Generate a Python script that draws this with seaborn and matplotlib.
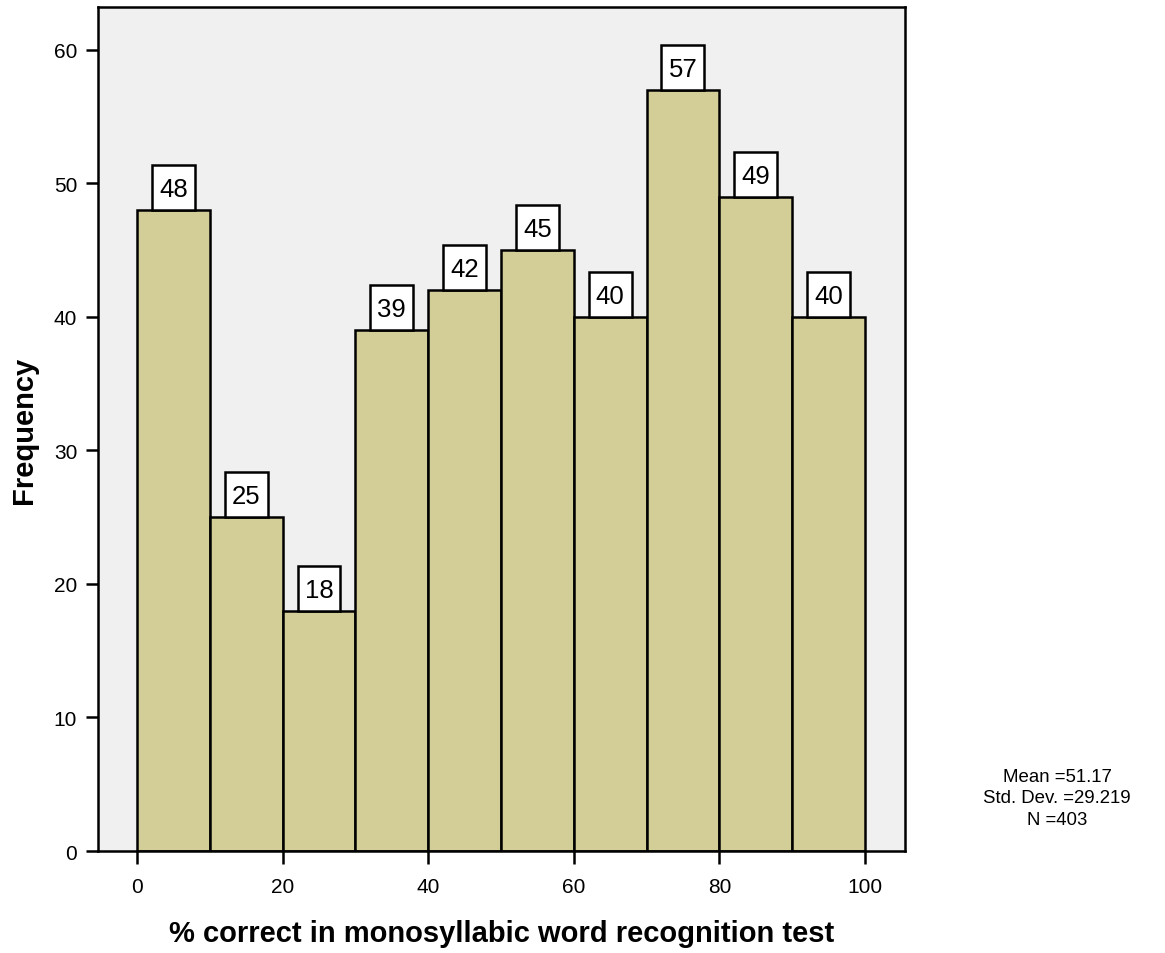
"""
Histogram of word recognition scores, SPSS style
"""

import numpy as np
import pandas as pd
import matplotlib
matplotlib.use('Agg')
import matplotlib.pyplot as plt
from matplotlib.path import Path
import seaborn as sns

# Data
bin_edges = [0, 10, 20, 30, 40, 50, 60, 70, 80, 90, 100]
counts = [48, 25, 18, 39, 42, 45, 40, 57, 49, 40]
x_ticks = [0, 20, 40, 60, 80, 100]
y_ticks = [0, 10, 20, 30, 40, 50, 60]
stats_lines = ["Mean =51.17", "Std. Dev. =29.219", "N =403"]

BAR_COLOR = '#D3CE98'
BG_COLOR = '#F0F0F0'

# label box size, relative to font size
BOX_W = 1.67
BOX_H = 1.75
BOX_SHIFT = -0.06  # box moved up a bit so the digits sit centred


def label_box(x0, y0, width, height, mutation_size):
    """Fixed size box around a count label (SPSS style)"""
    cx = x0 + width / 2
    cy = y0 + height / 2 - BOX_SHIFT * mutation_size
    w = BOX_W * mutation_size / 2
    h = BOX_H * mutation_size / 2
    verts = [(cx - w, cy - h), (cx + w, cy - h), (cx + w, cy + h),
             (cx - w, cy + h), (cx - w, cy - h)]
    return Path(verts, closed=True)


def main():
    sns.set_style('white')
    plt.rcParams['font.family'] = ['Liberation Sans', 'DejaVu Sans']
    plt.rcParams['text.color'] = 'black'
    plt.rcParams['axes.labelcolor'] = 'black'
    plt.rcParams['xtick.color'] = 'black'
    plt.rcParams['ytick.color'] = 'black'

    centers = [(a + b) / 2 for a, b in zip(bin_edges[:-1], bin_edges[1:])]
    df = pd.DataFrame({'score': centers, 'count': counts})

    fig = plt.figure(figsize=(11.65, 9.54), dpi=100)
    ax = fig.add_axes([0.0841, 0.1069, 0.6927, 0.8847])
    ax.set_facecolor(BG_COLOR)

    sns.histplot(data=df, x='score', weights='count', bins=bin_edges,
                 color=BAR_COLOR, alpha=1, edgecolor='black', linewidth=1.8,
                 ax=ax)

    # count labels in boxes sitting on top of each bar
    fs = 18.5
    offset = (BOX_H / 2 + BOX_SHIFT) * fs
    for p in ax.patches:
        h = p.get_height()
        ax.annotate(f"{int(h)}", (p.get_x() + p.get_width() / 2, h),
                    xytext=(0, offset), textcoords='offset points',
                    ha='center', va='center', fontsize=fs, color='black',
                    bbox=dict(boxstyle=label_box, fc='white',
                              ec='black', lw=1.8))

    ax.set_xlim(-5.36, 105.5)
    ax.set_ylim(0, 63.2)
    ax.set_xticks(x_ticks)
    ax.set_yticks(y_ticks)
    ax.tick_params(axis='both', direction='out', length=9, width=1.8,
                   labelsize=15, color='black', labelcolor='black', pad=6)
    ax.tick_params(axis='x', bottom=True, pad=10)
    ax.tick_params(axis='y', left=True)
    for s in ax.spines.values():
        s.set_color('black')
        s.set_linewidth(1.8)

    ax.set_xlabel('% correct in monosyllabic word recognition test',
                  fontsize=21, fontweight='bold', labelpad=16)
    ax.set_ylabel('Frequency', fontsize=21, fontweight='bold', labelpad=11)

    fig.text(0.9073, 0.1625, "\n".join(stats_lines), ha='center',
             va='center', fontsize=13.4, linespacing=1.35)

    fig.savefig('out.png', dpi=100)
    plt.close(fig)


if __name__ == "__main__":
    main()
